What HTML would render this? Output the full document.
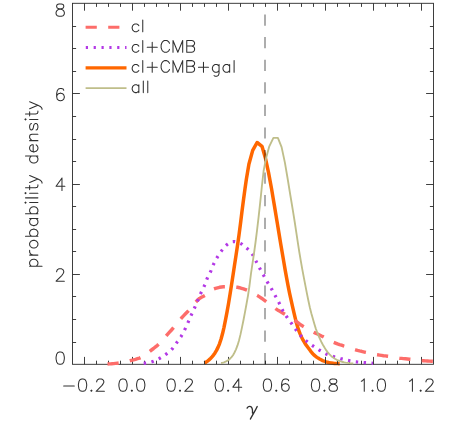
<!DOCTYPE html>
<html><head><meta charset="utf-8"><title>plot</title>
<style>html,body{margin:0;padding:0;background:#fff;}body{width:450px;height:428px;position:relative;overflow:hidden;font-family:"Liberation Sans",sans-serif;}</style>
</head><body>
<svg width="450" height="428" viewBox="0 0 450 428" style="position:absolute;left:0;top:0">
<rect width="450" height="428" fill="#fff"/>
<g fill="none" stroke-linejoin="round">
<polyline points="204.5,363.0 206.0,362.2 207.5,361.1 209.0,359.9 210.5,358.5 212.0,356.9 213.5,355.1 215.0,352.9 216.5,350.4 218.0,347.4 219.5,343.8 221.0,339.2 222.5,333.8 224.0,327.3 225.5,319.9 227.0,312.2 228.5,303.8 230.0,294.5 231.5,284.9 233.0,275.2 234.5,265.3 236.0,255.4 237.5,245.4 239.0,234.9 240.5,223.5 242.0,211.3 243.5,199.8 245.0,188.8 246.4,179.0 246.4,179.0 248.9,164.3 252.7,150.4 257.1,142.5 262.0,146.3 265.3,157.7 268.5,172.4 271.6,189.0 271.6,189.0 273.1,198.0 274.6,206.9 276.1,216.0 277.6,225.0 279.1,234.1 280.6,243.2 282.1,252.0 283.6,260.8 285.1,269.6 286.6,277.9 288.1,285.9 289.6,293.3 291.1,300.1 292.6,306.8 294.1,313.4 295.6,319.6 297.1,325.3 298.6,330.0 300.1,333.9 301.6,337.3 303.1,340.2 304.6,342.7 306.1,344.9 307.6,347.0 309.1,349.0 310.6,351.1 312.1,353.0 313.6,354.6 315.1,355.9 316.6,357.1 318.1,358.1 319.6,359.0 321.1,359.8 322.6,360.6 324.1,361.2 325.6,361.7 327.1,362.1 328.6,362.5 330.1,362.8 331.6,363.0 333.1,363.2 334.6,363.4 336.1,363.5 337.6,363.6 339.1,363.7 339.7,363.7" stroke="#ff6700" stroke-width="3.5"/>
</g>
<g fill="none" stroke="#2a2a2a" stroke-width="0.9">
<rect x="72.5" y="3.3" width="361.0" height="361.0"/>
<path d="M84.50,364.3v-7.4M84.50,3.3v7.4M96.50,364.3v-3.6M96.50,3.3v3.6M108.50,364.3v-3.6M108.50,3.3v3.6M120.50,364.3v-3.6M120.50,3.3v3.6M132.50,364.3v-7.4M132.50,3.3v7.4M144.50,364.3v-3.6M144.50,3.3v3.6M156.50,364.3v-3.6M156.50,3.3v3.6M168.50,364.3v-3.6M168.50,3.3v3.6M180.50,364.3v-7.4M180.50,3.3v7.4M192.50,364.3v-3.6M192.50,3.3v3.6M204.50,364.3v-3.6M204.50,3.3v3.6M216.50,364.3v-3.6M216.50,3.3v3.6M228.50,364.3v-7.4M228.50,3.3v7.4M240.50,364.3v-3.6M240.50,3.3v3.6M253.50,364.3v-3.6M253.50,3.3v3.6M265.50,364.3v-3.6M265.50,3.3v3.6M277.50,364.3v-7.4M277.50,3.3v7.4M289.50,364.3v-3.6M289.50,3.3v3.6M301.50,364.3v-3.6M301.50,3.3v3.6M313.50,364.3v-3.6M313.50,3.3v3.6M325.50,364.3v-7.4M325.50,3.3v7.4M337.50,364.3v-3.6M337.50,3.3v3.6M349.50,364.3v-3.6M349.50,3.3v3.6M361.50,364.3v-3.6M361.50,3.3v3.6M373.50,364.3v-7.4M373.50,3.3v7.4M385.50,364.3v-3.6M385.50,3.3v3.6M397.50,364.3v-3.6M397.50,3.3v3.6M409.50,364.3v-3.6M409.50,3.3v3.6M421.50,364.3v-7.4M421.50,3.3v7.4M72.5,342.50h3.6M433.5,342.50h-3.6M72.5,319.50h3.6M433.5,319.50h-3.6M72.5,296.50h3.6M433.5,296.50h-3.6M72.5,274.50h7.4M433.5,274.50h-7.4M72.5,251.50h3.6M433.5,251.50h-3.6M72.5,229.50h3.6M433.5,229.50h-3.6M72.5,206.50h3.6M433.5,206.50h-3.6M72.5,184.50h7.4M433.5,184.50h-7.4M72.5,161.50h3.6M433.5,161.50h-3.6M72.5,139.50h3.6M433.5,139.50h-3.6M72.5,116.50h3.6M433.5,116.50h-3.6M72.5,93.50h7.4M433.5,93.50h-7.4M72.5,71.50h3.6M433.5,71.50h-3.6M72.5,48.50h3.6M433.5,48.50h-3.6M72.5,26.50h3.6M433.5,26.50h-3.6"/>
</g>
<g fill="none" stroke-linejoin="round">
<line x1="265.0" y1="364.3" x2="265.0" y2="3.3" stroke="#939393" stroke-width="1.5" style="mix-blend-mode:multiply" stroke-dasharray="11.2 11.37"/>
<polyline points="107.5,364.0 109.5,363.9 111.5,363.8 113.5,363.6 115.5,363.4 117.5,363.2 119.5,363.0 121.5,362.6 123.5,362.2 125.5,361.8 127.5,361.3 129.5,360.8 131.5,360.3 133.5,359.8 135.5,359.3 137.5,358.7 139.5,358.1 141.5,357.2 143.5,356.1 145.5,354.6 147.5,353.1 149.5,351.5 151.5,350.0 153.5,348.5 155.5,346.9 157.5,345.3 159.5,343.4 161.5,341.3 163.5,339.0 165.5,336.7 167.5,334.4 169.5,332.2 171.5,330.0 173.5,327.7 175.5,325.3 177.5,322.9 179.5,320.4 181.5,318.0 183.5,315.9 185.5,313.8 187.5,311.8 189.5,309.5 191.5,307.1 193.5,304.7 195.5,302.4 197.5,300.2 199.5,298.4 201.5,297.3 203.5,296.3 205.5,295.2 207.5,293.6 209.5,292.0 211.5,290.4 213.5,289.0 215.5,288.3 217.5,287.8 219.5,287.3 221.5,287.0 223.5,286.8 225.5,286.8 227.5,286.8 229.5,286.9 231.5,286.9 233.5,287.0 235.5,287.1 237.5,287.3 239.5,287.7 241.5,288.3 243.5,288.9 245.5,289.6 247.5,290.4 249.5,291.3 251.5,292.2 253.5,293.3 255.5,294.5 257.5,295.6 259.5,296.9 261.5,298.2 263.5,299.7 265.5,301.1 267.5,302.6 269.5,304.1 271.5,305.6 273.5,307.1 275.5,308.6 277.5,309.9 279.5,311.1 281.5,312.3 283.5,313.5 285.5,314.7 287.5,315.9 289.5,317.1 291.5,318.3 293.5,319.6 295.5,321.0 297.5,322.4 299.5,323.9 301.5,325.3 303.5,326.6 305.5,327.8 307.5,328.9 309.5,330.0 311.5,331.0 313.5,332.1 315.5,333.1 317.5,334.0 319.5,335.0 321.5,336.0 323.5,336.9 325.5,338.0 327.5,339.2 329.5,340.3 331.5,341.4 333.5,342.3 335.5,343.1 337.5,343.9 339.5,344.6 341.5,345.2 343.5,345.9 345.5,346.5 347.5,347.2 349.5,347.9 351.5,348.6 353.5,349.2 355.5,349.8 357.5,350.4 359.5,350.9 361.5,351.3 363.5,351.8 365.5,352.3 367.5,352.7 369.5,353.2 371.5,353.6 373.5,354.1 375.5,354.5 377.5,354.8 379.5,355.1 381.5,355.4 383.5,355.7 385.5,355.9 387.5,356.2 389.5,356.5 391.5,356.8 393.5,357.2 395.5,357.6 397.5,357.9 399.5,358.2 401.5,358.4 403.5,358.6 405.5,358.8 407.5,359.0 409.5,359.2 411.5,359.4 413.5,359.6 415.5,359.9 417.5,360.1 419.5,360.4 421.5,360.6 423.5,360.7 425.5,360.9 427.5,361.0 429.5,361.1 431.5,361.2 433.5,361.3" stroke="#fd6d6a" stroke-width="3.45" stroke-dasharray="11.18 11.36"/>
<polyline points="143.7,363.3 144.9,363.2 146.1,363.1 147.3,362.9 148.5,362.6 149.7,362.3 150.9,362.1 152.1,361.7 153.3,361.3 154.5,360.8 155.7,360.3 156.9,359.7 158.1,359.1 159.3,358.5 160.5,357.8 161.7,357.1 162.9,356.4 164.1,355.6 165.3,354.8 166.5,353.9 167.7,353.0 168.9,352.1 170.1,351.1 171.3,349.9 172.5,348.6 173.7,347.0 174.9,345.3 176.1,343.6 177.3,341.9 178.5,340.3 179.7,338.6 180.9,336.8 182.1,334.7 183.3,332.5 184.5,330.2 185.7,327.7 186.9,325.1 188.1,322.4 189.3,319.6 190.5,316.8 191.7,314.1 192.9,311.5 194.1,308.9 195.3,306.2 196.5,303.4 197.7,300.6 198.9,297.8 200.1,294.9 201.3,292.1 202.5,289.6 203.7,287.3 204.9,284.7 206.1,281.3 207.3,278.1 208.5,275.7 209.7,273.5 210.9,270.9 212.1,267.9 213.3,264.8 214.5,262.2 215.7,260.0 216.9,257.9 218.1,255.9 219.3,254.0 220.5,252.2 221.7,250.6 222.9,249.0 224.1,247.4 225.3,246.1 226.5,245.0 227.7,244.1 228.9,243.3 230.1,242.6 231.3,242.0 232.5,241.6 233.7,241.5 234.9,241.6 236.1,241.8 237.3,242.2 238.5,242.6 239.7,243.0 240.9,243.6 242.1,244.3 243.3,245.2 244.5,246.1 245.7,247.2 246.9,248.3 248.1,249.4 249.3,250.6 250.5,251.9 251.7,253.4 252.9,255.1 254.1,257.3 255.3,259.7 256.5,262.1 257.7,264.4 258.9,266.7 260.1,269.0 261.3,271.2 262.5,273.4 263.7,275.6 264.9,277.7 266.1,279.8 267.3,281.9 268.5,283.9 269.7,285.8 270.9,287.8 272.1,289.9 273.3,292.1 274.5,294.3 275.7,296.6 276.9,298.8 278.1,301.0 279.3,303.3 280.5,305.9 281.7,308.5 282.9,310.8 284.1,312.8 285.3,314.7 286.5,316.5 287.7,318.3 288.9,319.9 290.1,321.6 291.3,323.2 292.5,325.0 293.7,326.7 294.9,328.4 296.1,330.0 297.3,331.6 298.5,333.1 299.7,334.6 300.9,335.9 302.1,337.2 303.3,338.3 304.5,339.4 305.7,340.5 306.9,341.5 308.1,342.5 309.3,343.4 310.5,344.3 311.7,345.1 312.9,345.9 314.1,346.7 315.3,347.5 316.5,348.3 317.7,349.0 318.9,349.8 320.1,350.5 321.3,351.2 322.5,352.0 323.7,352.7 324.9,353.3 326.1,353.9 327.3,354.4 328.5,354.9 329.7,355.3 330.9,355.6 332.1,356.0 333.3,356.4 334.5,356.8 335.7,357.1 336.9,357.5 338.1,357.9 339.3,358.2 340.5,358.6 341.7,358.9 342.9,359.2 344.1,359.5 345.3,359.7 346.5,360.0 347.7,360.3 348.9,360.5 350.1,360.8 351.3,361.0 352.5,361.2 353.7,361.5 354.9,361.7 356.1,361.8 357.3,362.0 358.5,362.1 359.7,362.2 360.9,362.3 362.1,362.4 363.3,362.5 364.5,362.6 365.7,362.7 366.9,362.8 368.1,362.9 369.3,363.0 370.5,363.1 371.7,363.2 372.9,363.3 373.0,363.3" stroke="#b338e6" stroke-width="3.2" stroke-dasharray="2.4 5.485"/>
<polyline points="221.0,363.0 222.5,362.8 224.0,362.3 225.5,361.7 227.0,360.9 228.5,360.0 230.0,358.7 231.5,357.1 233.0,355.2 234.5,352.5 236.0,349.3 237.5,345.4 239.0,340.5 240.5,334.4 242.0,327.4 243.5,320.0 245.0,312.2 246.5,304.0 248.0,295.6 249.5,285.5 251.0,273.5 252.5,263.3 254.0,253.4 255.5,242.5 257.0,230.6 258.5,217.9 260.0,204.4 261.5,190.0 261.9,186.0 261.9,186.0 263.6,171.0 266.1,158.0 269.3,146.3 273.4,137.8 277.9,137.8 281.6,147.1 284.9,162.6 287.7,179.0 290.3,195.0 290.3,195.0 291.8,204.0 293.3,213.2 294.8,222.5 296.3,232.3 297.8,242.4 299.3,252.0 300.8,260.8 302.3,269.3 303.8,277.3 305.3,285.2 306.8,292.9 308.3,300.3 309.8,307.2 311.3,313.2 312.8,318.6 314.3,323.8 315.8,328.6 317.3,332.7 318.8,336.3 320.3,339.6 321.8,342.8 323.3,345.6 324.8,348.1 326.3,350.4 327.8,352.3 329.3,354.1 330.8,355.6 332.3,357.0 333.8,358.0 335.3,359.0 336.8,359.8 338.3,360.5 339.8,361.0 341.3,361.6 342.8,362.0 344.3,362.4 345.8,362.7 347.3,362.9 348.8,363.1 350.3,363.3 351.8,363.4 353.3,363.5" stroke="#bfbe8a" stroke-width="1.85"/>
<!-- legend -->
<line x1="85.6" y1="27.2" x2="126.5" y2="27.2" stroke="#fd6d6a" stroke-width="3.1" stroke-dasharray="11.2 11.4"/>
<line x1="85.8" y1="47.5" x2="126.5" y2="47.5" stroke="#b338e6" stroke-width="3.2" stroke-dasharray="2.2 5.65"/>
<line x1="85.6" y1="67.85" x2="126.5" y2="67.85" stroke="#ff6700" stroke-width="3.4"/>
<line x1="85.6" y1="88.05" x2="126.5" y2="88.05" stroke="#bfbe8a" stroke-width="1.75"/>
</g>
<g fill="none" stroke="#303030" stroke-width="1.05" stroke-linecap="round" stroke-linejoin="round">
<path d="M63.67,385.99L74.29,385.99M81.96,378.91L80.19,379.50L79.01,381.27L78.42,384.22L78.42,385.99L79.01,388.94L80.19,390.71L81.96,391.30L83.14,391.30L84.91,390.71L86.09,388.94L86.68,385.99L86.68,384.22L86.09,381.27L84.91,379.50L83.14,378.91L81.96,378.91M91.40,390.12L90.81,390.71L91.40,391.30L91.99,390.71L91.40,390.12M96.71,381.86L96.71,381.27L97.30,380.09L97.89,379.50L99.07,378.91L101.43,378.91L102.61,379.50L103.20,380.09L103.79,381.27L103.79,382.45L103.20,383.63L102.02,385.40L96.12,391.30L104.38,391.30M122.43,378.91L120.66,379.50L119.48,381.27L118.89,384.22L118.89,385.99L119.48,388.94L120.66,390.71L122.43,391.30L123.61,391.30L125.38,390.71L126.56,388.94L127.15,385.99L127.15,384.22L126.56,381.27L125.38,379.50L123.61,378.91L122.43,378.91M131.87,390.12L131.28,390.71L131.87,391.30L132.46,390.71L131.87,390.12M140.13,378.91L138.36,379.50L137.18,381.27L136.59,384.22L136.59,385.99L137.18,388.94L138.36,390.71L140.13,391.30L141.31,391.30L143.08,390.71L144.26,388.94L144.85,385.99L144.85,384.22L144.26,381.27L143.08,379.50L141.31,378.91L140.13,378.91M170.56,378.91L168.79,379.50L167.61,381.27L167.02,384.22L167.02,385.99L167.61,388.94L168.79,390.71L170.56,391.30L171.74,391.30L173.51,390.71L174.69,388.94L175.28,385.99L175.28,384.22L174.69,381.27L173.51,379.50L171.74,378.91L170.56,378.91M180.00,390.12L179.41,390.71L180.00,391.30L180.59,390.71L180.00,390.12M185.31,381.86L185.31,381.27L185.90,380.09L186.49,379.50L187.67,378.91L190.03,378.91L191.21,379.50L191.80,380.09L192.39,381.27L192.39,382.45L191.80,383.63L190.62,385.40L184.72,391.30L192.98,391.30M218.69,378.91L216.92,379.50L215.74,381.27L215.15,384.22L215.15,385.99L215.74,388.94L216.92,390.71L218.69,391.30L219.87,391.30L221.64,390.71L222.82,388.94L223.41,385.99L223.41,384.22L222.82,381.27L221.64,379.50L219.87,378.91L218.69,378.91M228.13,390.12L227.54,390.71L228.13,391.30L228.72,390.71L228.13,390.12M238.75,378.91L232.85,387.17L241.70,387.17M238.75,378.91L238.75,391.30M266.83,378.91L265.06,379.50L263.88,381.27L263.29,384.22L263.29,385.99L263.88,388.94L265.06,390.71L266.83,391.30L268.01,391.30L269.78,390.71L270.96,388.94L271.55,385.99L271.55,384.22L270.96,381.27L269.78,379.50L268.01,378.91L266.83,378.91M276.27,390.12L275.68,390.71L276.27,391.30L276.86,390.71L276.27,390.12M288.66,380.68L288.07,379.50L286.30,378.91L285.12,378.91L283.35,379.50L282.17,381.27L281.58,384.22L281.58,387.17L282.17,389.53L283.35,390.71L285.12,391.30L285.71,391.30L287.48,390.71L288.66,389.53L289.25,387.76L289.25,387.17L288.66,385.40L287.48,384.22L285.71,383.63L285.12,383.63L283.35,384.22L282.17,385.40L281.58,387.17M314.96,378.91L313.19,379.50L312.01,381.27L311.42,384.22L311.42,385.99L312.01,388.94L313.19,390.71L314.96,391.30L316.14,391.30L317.91,390.71L319.09,388.94L319.68,385.99L319.68,384.22L319.09,381.27L317.91,379.50L316.14,378.91L314.96,378.91M324.40,390.12L323.81,390.71L324.40,391.30L324.99,390.71L324.40,390.12M332.07,378.91L330.30,379.50L329.71,380.68L329.71,381.86L330.30,383.04L331.48,383.63L333.84,384.22L335.61,384.81L336.79,385.99L337.38,387.17L337.38,388.94L336.79,390.12L336.20,390.71L334.43,391.30L332.07,391.30L330.30,390.71L329.71,390.12L329.12,388.94L329.12,387.17L329.71,385.99L330.89,384.81L332.66,384.22L335.02,383.63L336.20,383.04L336.79,381.86L336.79,380.68L336.20,379.50L334.43,378.91L332.07,378.91M361.32,381.27L362.50,380.68L364.27,378.91L364.27,391.30M372.53,390.12L371.94,390.71L372.53,391.30L373.12,390.71L372.53,390.12M380.79,378.91L379.02,379.50L377.84,381.27L377.25,384.22L377.25,385.99L377.84,388.94L379.02,390.71L380.79,391.30L381.97,391.30L383.74,390.71L384.92,388.94L385.51,385.99L385.51,384.22L384.92,381.27L383.74,379.50L381.97,378.91L380.79,378.91M409.46,381.27L410.64,380.68L412.41,378.91L412.41,391.30M420.67,390.12L420.08,390.71L420.67,391.30L421.26,390.71L420.67,390.12M425.98,381.86L425.98,381.27L426.57,380.09L427.16,379.50L428.34,378.91L430.70,378.91L431.88,379.50L432.47,380.09L433.06,381.27L433.06,382.45L432.47,383.63L431.29,385.40L425.39,391.30L433.65,391.30M59.02,3.91L57.25,4.50L56.66,5.68L56.66,6.86L57.25,8.04L58.43,8.63L60.79,9.22L62.56,9.81L63.74,10.99L64.33,12.17L64.33,13.94L63.74,15.12L63.15,15.71L61.38,16.30L59.02,16.30L57.25,15.71L56.66,15.12L56.07,13.94L56.07,12.17L56.66,10.99L57.84,9.81L59.61,9.22L61.97,8.63L63.15,8.04L63.74,6.86L63.74,5.68L63.15,4.50L61.38,3.91L59.02,3.91M63.74,90.18L63.15,89.00L61.38,88.41L60.20,88.41L58.43,89.00L57.25,90.77L56.66,93.72L56.66,96.67L57.25,99.03L58.43,100.21L60.20,100.80L60.79,100.80L62.56,100.21L63.74,99.03L64.33,97.26L64.33,96.67L63.74,94.90L62.56,93.72L60.79,93.13L60.20,93.13L58.43,93.72L57.25,94.90L56.66,96.67M61.97,178.01L56.07,186.27L64.92,186.27M61.97,178.01L61.97,190.40M56.66,271.76L56.66,271.17L57.25,269.99L57.84,269.40L59.02,268.81L61.38,268.81L62.56,269.40L63.15,269.99L63.74,271.17L63.74,272.35L63.15,273.53L61.97,275.30L56.07,281.20L64.33,281.20M59.61,351.91L57.84,352.50L56.66,354.27L56.07,357.22L56.07,358.99L56.66,361.94L57.84,363.71L59.61,364.30L60.79,364.30L62.56,363.71L63.74,361.94L64.33,358.99L64.33,357.22L63.74,354.27L62.56,352.50L60.79,351.91L59.61,351.91M29.64,266.31L42.03,266.31M31.41,266.31L30.23,265.13L29.64,263.95L29.64,262.18L30.23,261.00L31.41,259.82L33.18,259.23L34.36,259.23L36.13,259.82L37.31,261.00L37.90,262.18L37.90,263.95L37.31,265.13L36.13,266.31M29.64,255.10L37.90,255.10M33.18,255.10L31.41,254.51L30.23,253.33L29.64,252.15L29.64,250.38M29.64,245.07L30.23,246.25L31.41,247.43L33.18,248.02L34.36,248.02L36.13,247.43L37.31,246.25L37.90,245.07L37.90,243.30L37.31,242.12L36.13,240.94L34.36,240.35L33.18,240.35L31.41,240.94L30.23,242.12L29.64,243.30L29.64,245.07M25.51,236.22L37.90,236.22M31.41,236.22L30.23,235.04L29.64,233.86L29.64,232.09L30.23,230.91L31.41,229.73L33.18,229.14L34.36,229.14L36.13,229.73L37.31,230.91L37.90,232.09L37.90,233.86L37.31,235.04L36.13,236.22M29.64,218.52L37.90,218.52M31.41,218.52L30.23,219.70L29.64,220.88L29.64,222.65L30.23,223.83L31.41,225.01L33.18,225.60L34.36,225.60L36.13,225.01L37.31,223.83L37.90,222.65L37.90,220.88L37.31,219.70L36.13,218.52M25.51,213.80L37.90,213.80M31.41,213.80L30.23,212.62L29.64,211.44L29.64,209.67L30.23,208.49L31.41,207.31L33.18,206.72L34.36,206.72L36.13,207.31L37.31,208.49L37.90,209.67L37.90,211.44L37.31,212.62L36.13,213.80M25.51,203.18L26.10,202.59L25.51,202.00L24.92,202.59L25.51,203.18M29.64,202.59L37.90,202.59M25.51,197.87L37.90,197.87M25.51,193.74L26.10,193.15L25.51,192.56L24.92,193.15L25.51,193.74M29.64,193.15L37.90,193.15M25.51,187.84L35.54,187.84L37.31,187.25L37.90,186.07L37.90,184.89M29.64,189.61L29.64,185.48M29.64,182.53L37.90,178.99M29.64,175.45L37.90,178.99L40.26,180.17L41.44,181.35L42.03,182.53L42.03,183.12M25.51,155.98L37.90,155.98M31.41,155.98L30.23,157.16L29.64,158.34L29.64,160.11L30.23,161.29L31.41,162.47L33.18,163.06L34.36,163.06L36.13,162.47L37.31,161.29L37.90,160.11L37.90,158.34L37.31,157.16L36.13,155.98M33.18,151.85L33.18,144.77L32.00,144.77L30.82,145.36L30.23,145.95L29.64,147.13L29.64,148.90L30.23,150.08L31.41,151.26L33.18,151.85L34.36,151.85L36.13,151.26L37.31,150.08L37.90,148.90L37.90,147.13L37.31,145.95L36.13,144.77M29.64,140.64L37.90,140.64M32.00,140.64L30.23,138.87L29.64,137.69L29.64,135.92L30.23,134.74L32.00,134.15L37.90,134.15M31.41,123.53L30.23,124.12L29.64,125.89L29.64,127.66L30.23,129.43L31.41,130.02L32.59,129.43L33.18,128.25L33.77,125.30L34.36,124.12L35.54,123.53L36.13,123.53L37.31,124.12L37.90,125.89L37.90,127.66L37.31,129.43L36.13,130.02M25.51,119.99L26.10,119.40L25.51,118.81L24.92,119.40L25.51,119.99M29.64,119.40L37.90,119.40M25.51,114.09L35.54,114.09L37.31,113.50L37.90,112.32L37.90,111.14M29.64,115.86L29.64,111.73M29.64,108.78L37.90,105.24M29.64,101.70L37.90,105.24L40.26,106.42L41.44,107.60L42.03,108.78L42.03,109.37M138.85,25.57L137.74,24.46L136.63,23.90L134.96,23.90L133.84,24.46L132.73,25.57L132.17,27.24L132.17,28.36L132.73,30.03L133.84,31.14L134.96,31.70L136.63,31.70L137.74,31.14L138.85,30.03M142.75,20.00L142.75,31.70M138.85,46.07L137.74,44.96L136.63,44.40L134.96,44.40L133.84,44.96L132.73,46.07L132.17,47.74L132.17,48.86L132.73,50.53L133.84,51.64L134.96,52.20L136.63,52.20L137.74,51.64L138.85,50.53M142.75,40.50L142.75,52.20M152.22,42.17L152.22,52.20M147.21,47.19L157.24,47.19M169.49,43.29L168.93,42.17L167.82,41.06L166.71,40.50L164.48,40.50L163.36,41.06L162.25,42.17L161.69,43.29L161.13,44.96L161.13,47.74L161.69,49.42L162.25,50.53L163.36,51.64L164.48,52.20L166.71,52.20L167.82,51.64L168.93,50.53L169.49,49.42M173.00,52.20L173.00,40.50L177.84,52.20L182.69,40.50L182.69,52.20M186.76,40.50L186.76,52.20M186.76,40.50L191.77,40.50L193.44,41.06L194.00,41.62L194.56,42.73L194.56,43.84L194.00,44.96L193.44,45.52L191.77,46.07M186.76,46.07L191.77,46.07L193.44,46.63L194.00,47.19L194.56,48.30L194.56,49.97L194.00,51.09L193.44,51.64L191.77,52.20L186.76,52.20M138.85,66.17L137.74,65.06L136.63,64.50L134.96,64.50L133.84,65.06L132.73,66.17L132.17,67.84L132.17,68.96L132.73,70.63L133.84,71.74L134.96,72.30L136.63,72.30L137.74,71.74L138.85,70.63M142.75,60.60L142.75,72.30M152.22,62.27L152.22,72.30M147.21,67.29L157.24,67.29M169.49,63.39L168.93,62.27L167.82,61.16L166.71,60.60L164.48,60.60L163.36,61.16L162.25,62.27L161.69,63.39L161.13,65.06L161.13,67.84L161.69,69.52L162.25,70.63L163.36,71.74L164.48,72.30L166.71,72.30L167.82,71.74L168.93,70.63L169.49,69.52M173.00,72.30L173.00,60.60L177.84,72.30L182.69,60.60L182.69,72.30M186.76,60.60L186.76,72.30M186.76,60.60L191.77,60.60L193.44,61.16L194.00,61.72L194.56,62.83L194.56,63.94L194.00,65.06L193.44,65.62L191.77,66.17M186.76,66.17L191.77,66.17L193.44,66.73L194.00,67.29L194.56,68.40L194.56,70.07L194.00,71.19L193.44,71.74L191.77,72.30L186.76,72.30M203.47,62.27L203.47,72.30M198.45,67.29L208.48,67.29M219.06,64.50L219.06,73.41L218.51,75.08L217.95,75.64L216.84,76.20L215.16,76.20L214.05,75.64M219.06,66.17L217.95,65.06L216.84,64.50L215.16,64.50L214.05,65.06L212.94,66.17L212.38,67.84L212.38,68.96L212.94,70.63L214.05,71.74L215.16,72.30L216.84,72.30L217.95,71.74L219.06,70.63M229.65,64.50L229.65,72.30M229.65,66.17L228.53,65.06L227.42,64.50L225.75,64.50L224.63,65.06L223.52,66.17L222.96,67.84L222.96,68.96L223.52,70.63L224.63,71.74L225.75,72.30L227.42,72.30L228.53,71.74L229.65,70.63M234.10,60.60L234.10,72.30M138.85,84.80L138.85,92.60M138.85,86.47L137.74,85.36L136.63,84.80L134.96,84.80L133.84,85.36L132.73,86.47L132.17,88.14L132.17,89.26L132.73,90.93L133.84,92.04L134.96,92.60L136.63,92.60L137.74,92.04L138.85,90.93M143.31,80.90L143.31,92.60M147.77,80.90L147.77,92.60"/>
<path d="M247.1,408.1C247.9,406.7 249.5,406.1 250.8,406.6C252.3,407.4 252.7,410 252.5,413M257.2,406.5C255.5,410.6 251.8,415.8 250.4,419.1" stroke-width="1.35"/>
</g>
<g font-family="'Liberation Sans', sans-serif" font-size="17px" fill="#303030" opacity="0">
<g text-anchor="middle">
<text x="84" y="391.5">−0.2</text><text x="132" y="391.5">0.0</text><text x="180" y="391.5">0.2</text><text x="228" y="391.5">0.4</text><text x="276" y="391.5">0.6</text><text x="324" y="391.5">0.8</text><text x="373" y="391.5">1.0</text><text x="421" y="391.5">1.2</text>
</g>
<g text-anchor="end">
<text x="66" y="16.5">8</text><text x="66" y="101">6</text><text x="66" y="190.5">4</text><text x="66" y="280.5">2</text><text x="66" y="364.5">0</text>
</g>
<text transform="translate(38,268) rotate(-90)">probability density</text>
<g font-size="15.5px">
<text x="131" y="31.7">cl</text><text x="131" y="52.2">cl+CMB</text><text x="131" y="72.3">cl+CMB+gal</text><text x="131" y="92.6">all</text>
</g>
<text x="252.5" y="414.5" text-anchor="middle" font-family="'Liberation Serif', serif" font-style="italic" font-size="21px">γ</text>
</g>
</svg>
</body></html>
